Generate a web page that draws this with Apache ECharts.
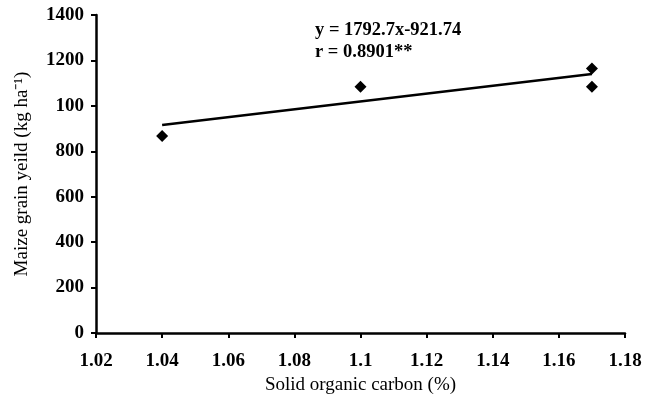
<!DOCTYPE html>
<html>
<head>
<meta charset="utf-8">
<script src="https://cdn.jsdelivr.net/npm/echarts@6/dist/echarts.min.js"></script>
<style>
  html, body { margin: 0; padding: 0; background: #fff; }
  #chart { width: 645px; height: 400px; }
</style>
</head>
<body>
<div id="chart"></div>
<script>
// observed points
var carbon = [1.04, 1.10, 1.17, 1.17];
var grainYield = [867, 1084, 1164, 1084];
// fitted line ends as drawn
var fitX = [1.04, 1.17];
var fitY = [916, 1140];
// y tick labels as printed (1000 is printed as "100")
var yTickValues = [0, 200, 400, 600, 800, 1000, 1200, 1400];
var yTickLabels = ['0', '200', '400', '600', '800', '100', '1200', '1400'];
var equationLines = ['y = 1792.7x-921.74', 'r = 0.8901**'];

var font = 'Liberation Serif';
var points = carbon.map(function (c, i) { return [c, grainYield[i]]; });
var fit = fitX.map(function (c, i) { return [c, fitY[i]]; });

var option = {
  animation: false,
  grid: {
    left: 96, right: 20, top: 15, bottom: 67,
    containLabel: false,
    outerBoundsMode: 'none'
  },
  xAxis: {
    type: 'value',
    min: 1.02,
    max: 1.18,
    interval: 0.02,
    name: 'Solid organic carbon (%)',
    nameLocation: 'middle',
    nameGap: 37,
    nameTextStyle: { fontFamily: font, fontSize: 19, color: '#000' },
    axisLine: { show: true, lineStyle: { color: '#000', width: 2.5 } },
    axisTick: { show: true, length: 5, lineStyle: { color: '#000', width: 2 } },
    axisLabel: {
      fontFamily: font, fontSize: 19, fontWeight: 'bold', color: '#000', margin: 19,
      formatter: function (v) { return String(+v.toFixed(2)); }
    },
    splitLine: { show: false }
  },
  yAxis: {
    type: 'value',
    min: 0,
    max: 1400,
    interval: 200,
    name: 'Maize grain yeild (kg ha\u207B\u00B9)',
    nameLocation: 'middle',
    nameGap: 64,
    nameTextStyle: { fontFamily: font, fontSize: 19, color: '#000' },
    axisLine: { show: true, lineStyle: { color: '#000', width: 2.5 } },
    axisTick: { show: true, length: 5, lineStyle: { color: '#000', width: 2 } },
    axisLabel: {
      fontFamily: font, fontSize: 19, fontWeight: 'bold', color: '#000', margin: 12,
      formatter: function (v) {
        var i = yTickValues.indexOf(v);
        return i >= 0 ? yTickLabels[i] : String(v);
      }
    },
    splitLine: { show: false }
  },
  series: [
    {
      type: 'line',
      data: fit,
      symbol: 'none',
      lineStyle: { color: '#000', width: 2.5 },
      z: 2
    },
    {
      type: 'scatter',
      data: points,
      symbol: 'diamond',
      symbolSize: 12,
      itemStyle: { color: '#000', opacity: 1 },
      z: 3
    }
  ],
  graphic: [
    {
      type: 'text',
      left: 315,
      top: 19,
      style: {
        text: equationLines.join('\n'),
        fontFamily: font,
        fontSize: 18.5,
        fontWeight: 'bold',
        lineHeight: 22,
        fill: '#000'
      }
    }
  ]
};

var myChart = echarts.init(document.getElementById('chart'));
myChart.setOption(option);
</script>
</body>
</html>
